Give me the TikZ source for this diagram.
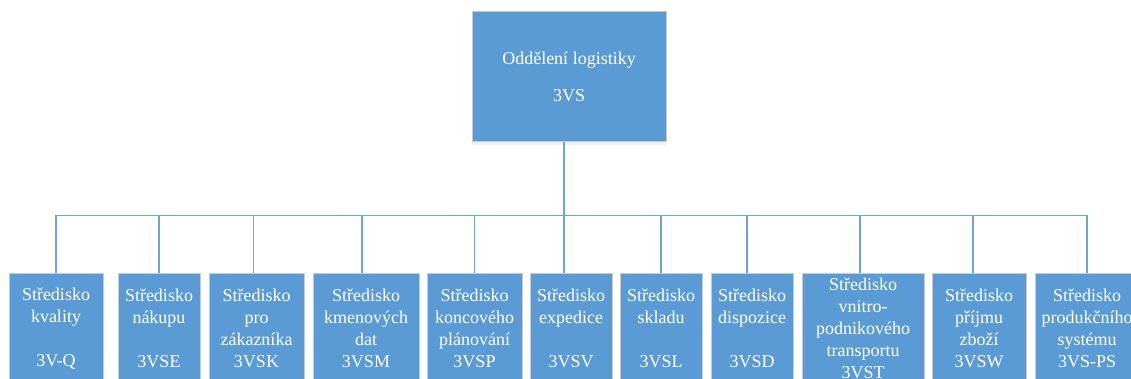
\documentclass[tikz,border=0pt]{standalone}
\usepackage{fontspec}
\setmainfont{Liberation Serif}
\newfontfamily\unitfont{Liberation Serif}
\usetikzlibrary{positioning,shadows}
\definecolor{unitblue}{HTML}{5B9BD5}
\definecolor{unitedge}{HTML}{C3CCD6}
\definecolor{linkblue}{HTML}{6FA3DA}
\tikzset{
  unit/.style={draw=unitedge, line width=1pt, fill=unitblue, text=white, align=center, inner sep=0pt, font=\unitfont\fontsize{18}{22}\selectfont},
  head/.style={unit, minimum width=194, minimum height=130, drop shadow={opacity=0.12, shadow xshift=0pt, shadow yshift=-3pt}},
  branch/.style={unit, anchor=north, minimum height=110},
  link/.style={draw=linkblue, line width=1.5pt}
}
\begin{document}
\begin{tikzpicture}[x=1pt,y=-1pt]
\useasboundingbox (0,0) rectangle (1131,379);
% department
\node [head] (log) at (569,77) {Oddělení logistiky\\[15pt]3VS};
% centres
\node [branch, minimum width=94] (q) at (56,273) {Středisko\\kvality\\[22pt]3V-Q};
\node [branch, minimum width=82] (se) at (159,273) {Středisko\\nákupu\\[22pt]3VSE};
\node [branch, minimum width=95] (sk) at (256.5,273) {Středisko\\pro\\zákazníka\\3VSK};
\node [branch, minimum width=106] (sm) at (366,273) {Středisko\\kmenových\\dat\\3VSM};
\node [branch, minimum width=95] (sp) at (474.5,273) {Středisko\\koncového\\plánování\\3VSP};
\node [branch, minimum width=82] (sv) at (571,273) {Středisko\\expedice\\[22pt]3VSV};
\node [branch, minimum width=82] (sl) at (661,273) {Středisko\\skladu\\[22pt]3VSL};
\node [branch, minimum width=82] (sd) at (752,273) {Středisko\\dispozice\\[22pt]3VSD};
\node [branch, minimum width=122] (st) at (863,273) {Středisko\\vnitro-\\podnikového\\transportu\\3VST};
\node [branch, minimum width=94] (sw) at (979,273) {Středisko\\příjmu\\zboží\\3VSW};
\node [branch, minimum width=104] (ps) at (1087,273) {Středisko\\produkčního\\systému\\3VS-PS};
% connectors
\draw [link] ([xshift=-5pt]log.south) coordinate (stem) -- (stem |- sv.north);
\coordinate (bus) at ([yshift=-73pt]stem);
\draw [link] (q.north) -- (q.north |- bus) -- (ps.north |- bus) -- (ps.north);
\draw [link] (se.north) -- (se.north |- bus);
\draw [link] ([xshift=-3pt]sk.north) -- ([xshift=-3pt]sk.north |- bus);
\draw [link] ([xshift=-4pt]sm.north) -- ([xshift=-4pt]sm.north |- bus);
\draw [link] (sp.north) -- (sp.north |- bus);
\draw [link] (sl.north) -- (sl.north |- bus);
\draw [link] ([xshift=-5pt]sd.north) -- ([xshift=-5pt]sd.north |- bus);
\draw [link] ([xshift=-3pt]st.north) -- ([xshift=-3pt]st.north |- bus);
\draw [link] ([xshift=-6pt]sw.north) -- ([xshift=-6pt]sw.north |- bus);
\end{tikzpicture}
\end{document}
